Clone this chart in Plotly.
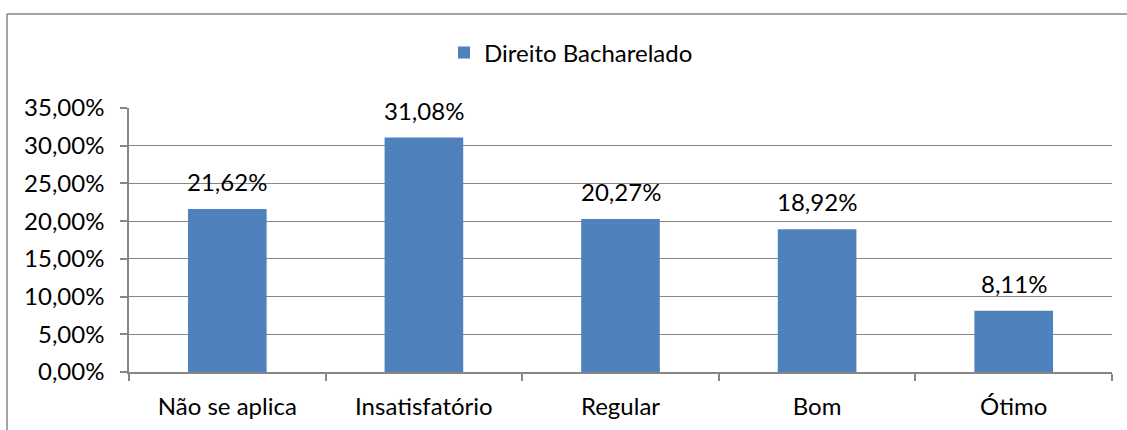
import plotly.graph_objects as go

categories = ["Não se aplica", "Insatisfatório", "Regular", "Bom", "Ótimo"]
values = [0.2162, 0.3108, 0.2027, 0.1892, 0.0811]
series_name = "Direito Bacharelado"
y_ticks = [0, 0.05, 0.10, 0.15, 0.20, 0.25, 0.30, 0.35]

BAR = "#4F81BD"
GRID = "#868686"
FONT = "Lato"
FS = 24

fig = go.Figure()
fig.add_trace(go.Bar(
    x=categories, y=values, name=series_name,
    marker=dict(color=BAR, line=dict(width=0)),
    width=0.4, showlegend=True,
))

for c, v in zip(categories, values):
    fig.add_annotation(
        x=c, y=v, text=f"{v*100:.2f}%".replace(".", ","),
        showarrow=False, yanchor="bottom", yshift=11,
        font=dict(family=FONT, size=FS, color="#000000"),
    )

L, R, T, B = 129, 15, 108, 58
W, H = 1127, 430
pw, ph = W - L - R, H - T - B

def px_x(p):
    return (p - L) / pw

def px_y(p):
    return (H - B - p) / ph

# outer chart border (top and left)
fig.add_shape(type="line", xref="paper", yref="paper",
              x0=px_x(7), x1=px_x(1140), y0=px_y(14), y1=px_y(14),
              line=dict(color=GRID, width=1.5))
fig.add_shape(type="line", xref="paper", yref="paper",
              x0=px_x(7), x1=px_x(7), y0=px_y(14), y1=px_y(440),
              line=dict(color=GRID, width=1.5))

fig.update_layout(
    width=W, height=H,
    margin=dict(l=L, r=R, t=T, b=B, pad=0),
    paper_bgcolor="white", plot_bgcolor="white",
    separators=",.",
    font=dict(family=FONT, size=FS, color="#000000"),
    bargap=0.6,
    legend=dict(orientation="h", x=px_x(444), y=px_y(53),
                xanchor="left", yanchor="middle",
                font=dict(family=FONT, size=FS, color="#000000"),
                itemsizing="constant"),
    xaxis=dict(
        showline=True, linecolor=GRID, linewidth=1.5,
        ticks="outside", tickson="boundaries", ticklen=7,
        tickcolor=GRID, tickwidth=1.5,
        showgrid=False, ticklabelstandoff=12, automargin=False,
    ),
    yaxis=dict(
        range=[0, 0.35], tickvals=y_ticks, tickformat=".2%",
        showline=True, linecolor=GRID, linewidth=1.5,
        ticks="outside", ticklen=7, tickcolor=GRID, tickwidth=1.5,
        showgrid=True, gridcolor=GRID, gridwidth=1,
        zeroline=False, ticklabelstandoff=11, automargin=False,
    ),
)

fig.write_html("out.html",
               config={"displayModeBar": False},
               post_script="document.body.style.margin='0';document.body.style.overflow='hidden';")
